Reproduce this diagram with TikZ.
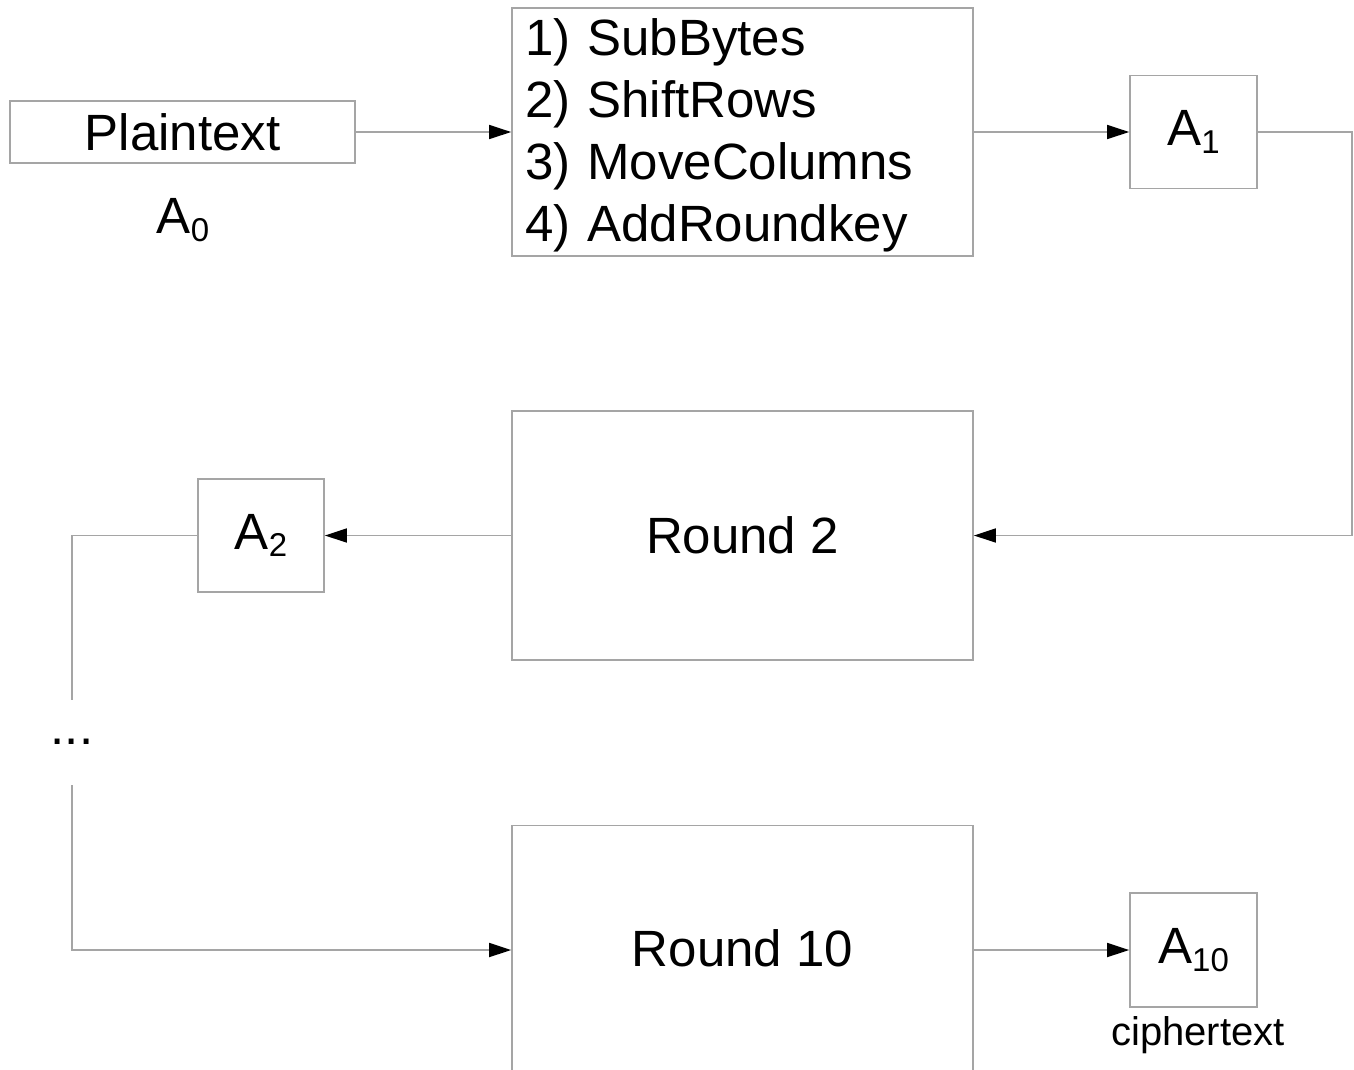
\documentclass[tikz,border=0pt]{standalone}
\usepackage{fontspec}
\setmainfont{Liberation Sans}
\usetikzlibrary{arrows.meta}
\definecolor{edgegray}{RGB}{165,165,165}
\newcommand{\sub}[1]{\raisebox{-0.28ex}{\fontsize{33}{33}\selectfont #1}}
\begin{document}
\begin{tikzpicture}[x=1pt,y=-1pt,
  box/.style={draw=edgegray, line width=1.7pt, fill=white, inner sep=0pt,
    font=\fontsize{51}{62}\selectfont},
  lbl/.style={inner sep=0pt, font=\fontsize{51}{62}\selectfont},
  link/.style={draw=edgegray, line width=1.7pt},
  arr/.style={link, -{Triangle[length=22pt,width=14pt,color=black,fill=black]}},
]
\useasboundingbox (0,0) rectangle (1354,1069);

% first row
\node[box, minimum width=345pt, minimum height=62pt] (plain) at (182.5,132) {Plaintext};
\node[lbl] (a0) at (183,220) {A\sub{0}};
\node[box, minimum width=461pt, minimum height=248pt] (steps) at (742.5,132) {};
\node[lbl, text width=435pt, align=left] (stepstxt) at (742.5,135)
  {1) SubBytes\\2) ShiftRows\\3) MoveColumns\\4) AddRoundkey};
\node[box, minimum width=127pt, minimum height=113pt] (a1) at (1193.5,132) {A\sub{1}};

% second row
\node[box, minimum width=461pt, minimum height=249pt] (r2) at (742.5,535.5) {Round 2};
\node[box, minimum width=126pt, minimum height=113pt] (a2) at (261,535.5) {A\sub{2}};

% continuation marker
\node[lbl] (dots) at (72,742) {...};
\coordinate (gapTop) at (72,700);
\coordinate (gapBot) at (72,785);

% last row
\node[box, minimum width=461pt, minimum height=249pt] (r10) at (742.5,950) {};
\node[lbl] (r10txt) at (742.5,948) {Round 10};
\node[box, minimum width=127pt, minimum height=114pt] (a10) at (1193.5,950) {A\sub{10}};
\node[inner sep=0pt, font=\fontsize{40}{48}\selectfont] (ct) at (1198,1035) {ciphertext};

% connectors
\draw[arr] (plain.east) -- (steps.west);
\draw[arr] (steps.east) -- (a1.west);
\draw[arr] (a1.east) -- (1352,132) |- (r2.east);
\draw[arr] (r2.west) -- (a2.east);
\draw[link] (a2.west) -| (gapTop);
\draw[arr] (gapBot) |- (r10.west);
\draw[arr] (r10.east) -- (a10.west);
\end{tikzpicture}
\end{document}
